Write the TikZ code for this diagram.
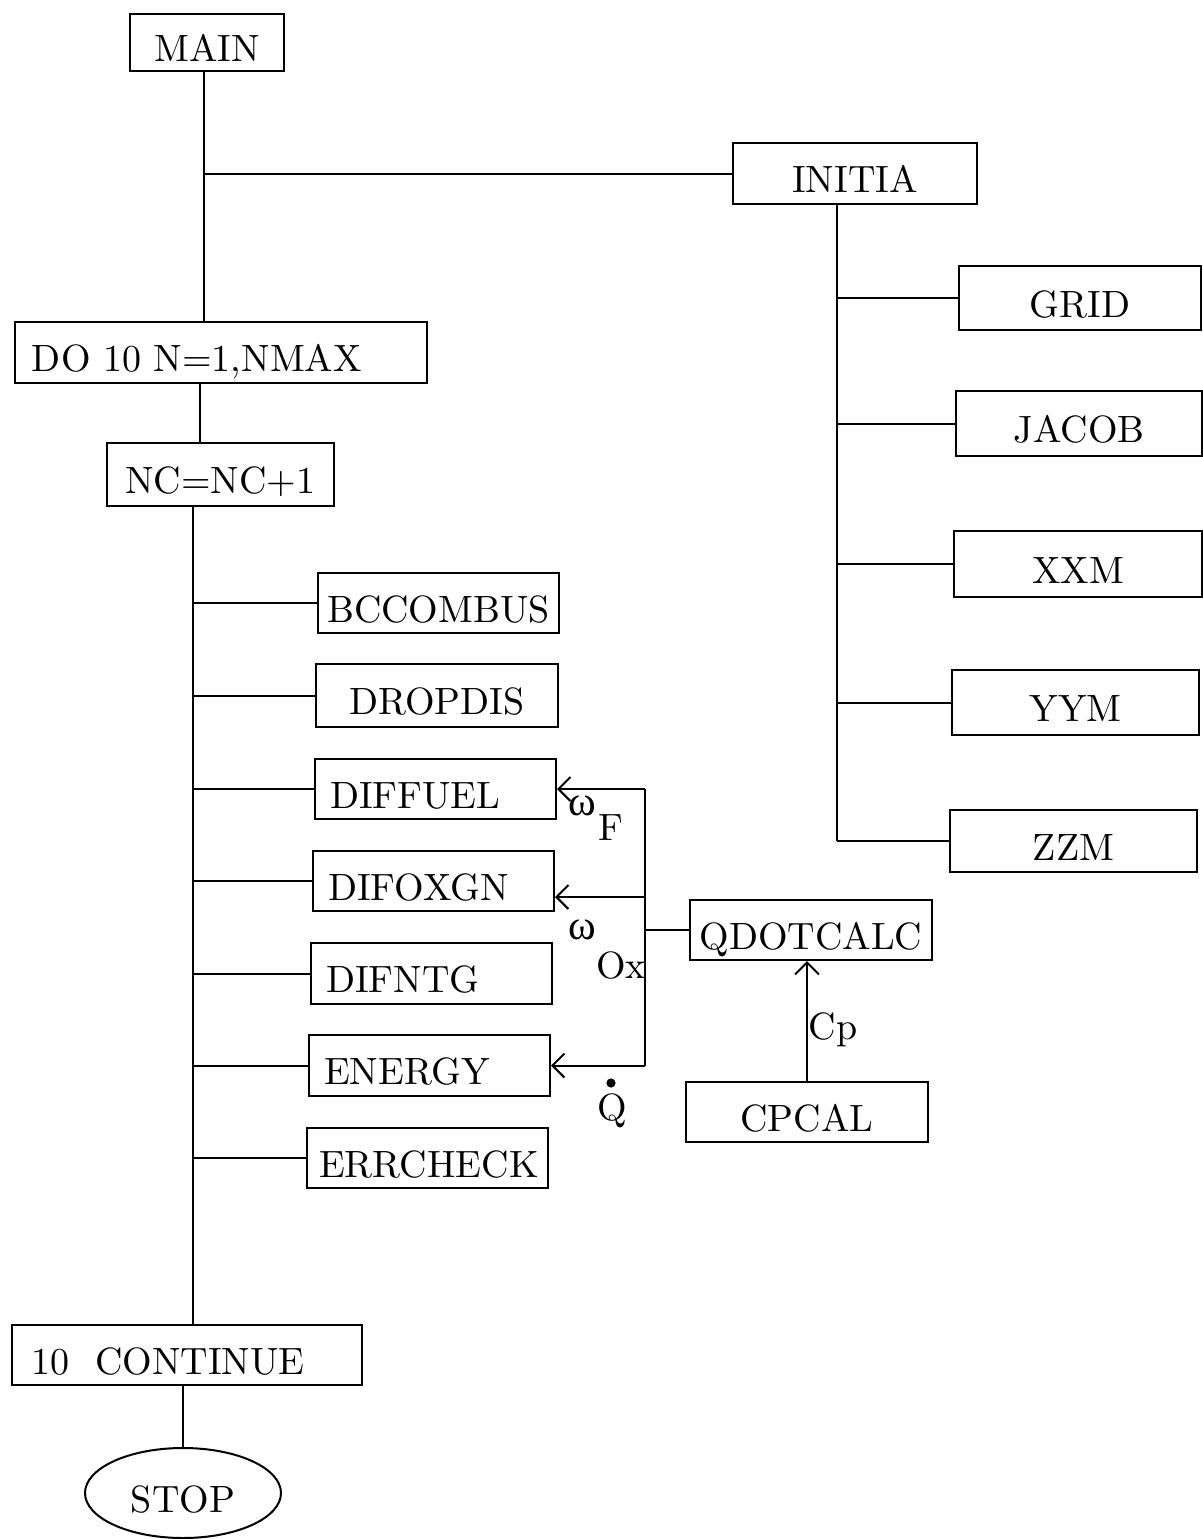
\documentclass[tikz,border=0pt]{standalone}
\usepackage{fontspec}
\setmainfont{lmroman10-regular.otf}
\newfontfamily\grkfont{Liberation Serif}
\usetikzlibrary{arrows.meta,calc,shapes.geometric}
\tikzset{
  box/.style={draw, line width=1pt, inner sep=0pt, text height=19pt, text depth=0pt, font=\fontsize{19}{22}\selectfont},
  lbox/.style={box, align=left, inner xsep=7.5pt},
  ln/.style={line width=1pt},
  arr/.style={line width=1pt, -{Straight Barb[length=6pt,width=12pt,line width=1pt]}},
  lbl/.style={inner sep=0pt, font=\fontsize{19}{22}\selectfont},
}
\begin{document}
\begin{tikzpicture}[x=0.5pt,y=-0.5pt]
\useasboundingbox (0,0) rectangle (1203,1539);
% left column
\node[box,minimum width=77pt,minimum height=28.5pt] (main) at (207,42.5) {MAIN};
\node[box,align=left,inner xsep=8.5pt,text width=189pt,minimum height=30.5pt] (do) at (221,352.5) {DO 10 N=1,NMAX};
\node[box,minimum width=113.5pt,minimum height=31.5pt] (nc) at (220.5,474.5) {NC=NC+1};
\node[box,minimum width=120.5pt,minimum height=30pt] (bcc) at (438.5,603) {BCCOMBUS};
\node[box,minimum width=121pt,minimum height=31.5pt] (drop) at (437,695.5) {DROPDIS};
\node[lbox,text width=105.5pt,minimum height=30pt] (diffuel) at (435.5,789) {DIFFUEL};
\node[lbox,text width=105.5pt,minimum height=30pt] (difox) at (433.5,881) {DIFOXGN};
\node[lbox,text width=105.5pt,minimum height=30.5pt] (difntg) at (431.5,973.5) {DIFNTG};
\node[lbox,text width=105.5pt,minimum height=30.5pt] (energy) at (429.5,1065.5) {ENERGY};
\node[lbox,inner xsep=6pt,text width=108.5pt,minimum height=30pt] (err) at (427.5,1158) {ERRCHECK};
\node[box,align=left,inner xsep=10pt,text width=155pt,minimum height=30pt] (cont) at (187,1355) {10\ \ CONTINUE};
\node[box,ellipse,minimum width=98pt,minimum height=45pt] (stop) at (183,1493) {STOP};
% right column
\node[box,minimum width=122pt,minimum height=30.5pt] (initia) at (855,173.5) {INITIA};
\node[box,minimum width=121pt,minimum height=32pt] (grid) at (1080,298) {GRID};
\node[box,minimum width=123pt,minimum height=32.5pt] (jacob) at (1079,423.5) {JACOB};
\node[box,minimum width=124pt,minimum height=33pt] (xxm) at (1078,564) {XXM};
\node[box,minimum width=123.5pt,minimum height=32.5pt] (yym) at (1075.5,702.5) {YYM};
\node[box,minimum width=123.5pt,minimum height=31pt] (zzm) at (1073.5,841) {ZZM};
\node[box,minimum width=121pt,minimum height=30pt] (qdot) at (811,930) {QDOTCALC};
\node[box,minimum width=121pt,minimum height=30pt] (cpcal) at (807,1112) {CPCAL};
% trunks
\coordinate (tkA) at (204,0);
\coordinate (tkB) at (200,0);
\coordinate (tkC) at (193,0);
\coordinate (tkD) at (837,0);
\coordinate (fb) at (645,0);
\draw[ln] (main.south -| tkA) -- (do.north -| tkA);
\draw[ln] (initia.west -| tkA) -- (initia.west);
\draw[ln] (do.south -| tkB) -- (nc.north -| tkB);
\draw[ln] (nc.south -| tkC) -- (cont.north -| tkC);
\foreach \n in {bcc,drop,diffuel,difox,difntg,energy,err}
  \draw[ln] (\n.west -| tkC) -- (\n.west);
\draw[ln] (cont.south -| stop.north) -- (stop.north);
\draw[ln] (initia.south -| tkD) -- (zzm.west -| tkD);
\foreach \n in {grid,jacob,xxm,yym,zzm}
  \draw[ln] (\n.west -| tkD) -- (\n.west);
% feedback from QDOTCALC
\coordinate (dox) at ($(difox.east)+(0,16)$);
\draw[ln] (diffuel.east -| fb) -- (energy.east -| fb);
\draw[ln] (qdot.west) -- (qdot.west -| fb);
\draw[arr] (diffuel.east -| fb) -- (diffuel.east);
\draw[arr] (dox -| fb) -- (dox);
\draw[arr] (energy.east -| fb) -- (energy.east);
\draw[arr] (cpcal.north) -- (cpcal.north |- qdot.south);
% labels
\node[lbl,font=\fontsize{21}{22}\grkfont] (wF) at (582,806) {ω};
\node[lbl] (F) at (611,828) {F};
\node[lbl,font=\fontsize{21}{22}\grkfont] (wO) at (582,930) {ω};
\node[lbl] (Ox) at (621,966) {Ox};
\node[lbl] (Q) at (612,1111) {Q};
\fill (611,1083) circle (2.3pt);
\node[lbl] (Cp) at (833,1030) {Cp};
\end{tikzpicture}
\end{document}
